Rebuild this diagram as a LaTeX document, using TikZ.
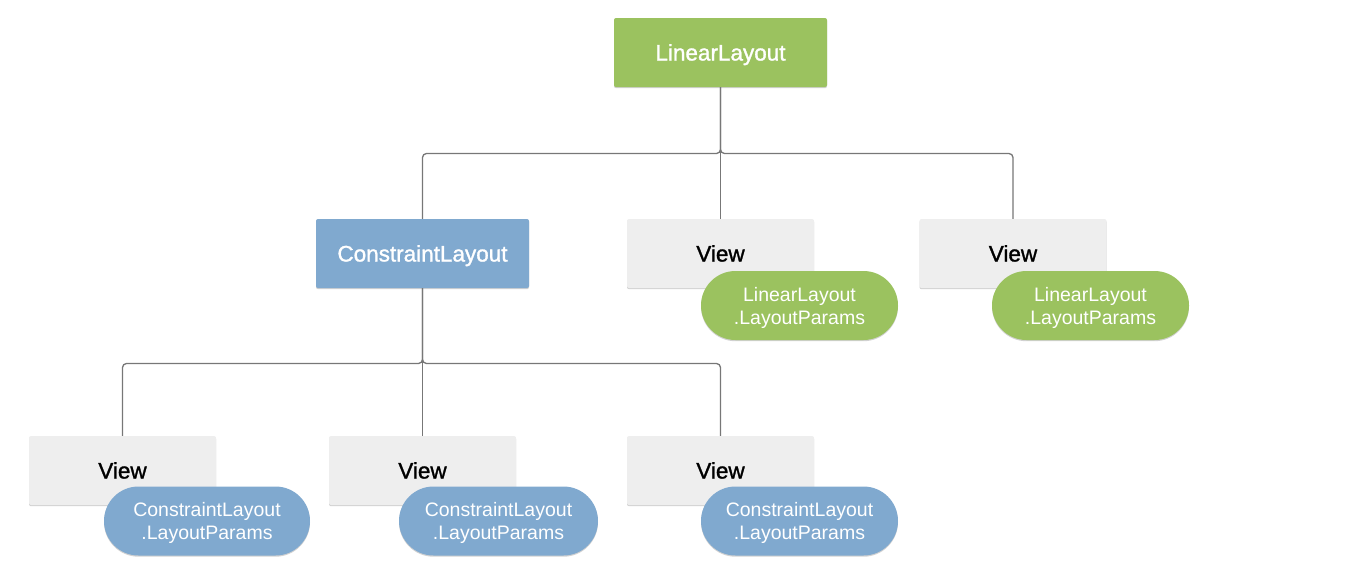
\documentclass[tikz,border=0pt]{standalone}
\usepackage{fontspec}
\setmainfont{Liberation Sans}
\newfontfamily\medfont[FakeBold=1.3]{Liberation Sans}
\usetikzlibrary{shadows}
\definecolor{llgreen}{HTML}{9BC25F}
\definecolor{clblue}{HTML}{80A9CF}
\definecolor{viewgrey}{HTML}{EEEEEE}
\definecolor{linegrey}{HTML}{777777}
\begin{document}
\begin{tikzpicture}[x=1pt,y=-1pt,
  shad/.style={drop shadow={shadow xshift=0pt,shadow yshift=-1.2pt,opacity=0.18,fill=black}},
  mainbox/.style={shad,rounded corners=2pt,inner sep=0pt,minimum height=69pt,
    text height=16pt,text depth=0pt,
    font=\medfont\fontsize{22.5}{26}\selectfont,text=white},
  greenbox/.style={mainbox,fill=llgreen,minimum width=213pt},
  bluebox/.style={mainbox,fill=clblue,minimum width=213pt},
  viewbox/.style={shad,rounded corners=2pt,inner sep=0pt,minimum height=69pt,minimum width=187pt,
    text height=16pt,text depth=0pt,
    fill=viewgrey,text=black,font=\medfont\fontsize{22.5}{26}\selectfont},
  pill/.style={shad,rounded corners=34.5pt,inner sep=0pt,minimum height=69pt,
    text depth=0pt,
    text=white,align=center,font=\fontsize{19.5}{23}\selectfont},
  gpill/.style={pill,fill=llgreen},
  bpill/.style={pill,fill=clblue},
  conn/.style={draw=linegrey,line width=1.3pt,rounded corners=4pt}
]
\useasboundingbox (0,0) rectangle (1352,574);
% top level
\node[greenbox] (ll) at (720.5,52.5) {LinearLayout};
% second level
\node[bluebox] (cl) at (422.5,253.5) {ConstraintLayout};
\node[viewbox] (v1) at (720.5,253.5) {View};
\node[viewbox] (v2) at (1013,253.5) {View};
\node[gpill,minimum width=197pt] (p1) at (799.5,305.5) {LinearLayout\\.LayoutParams};
\node[gpill,minimum width=197pt] (p2) at (1090.5,305.5) {LinearLayout\\.LayoutParams};
% third level
\node[viewbox] (v3) at (122.5,470.5) {View};
\node[viewbox] (v4) at (422.5,470.5) {View};
\node[viewbox] (v5) at (720.5,470.5) {View};
\node[bpill,minimum width=206pt] (p3) at (207,521) {ConstraintLayout\\.LayoutParams};
\node[bpill,minimum width=199pt] (p4) at (498.5,521) {ConstraintLayout\\.LayoutParams};
\node[bpill,minimum width=197pt] (p5) at (799.5,521) {ConstraintLayout\\.LayoutParams};
% connectors
\coordinate (bar1) at (720.5,153.5);
\coordinate (bar2) at (422.5,363.5);
\draw[conn] (ll.south) -- (bar1) -| (cl.north);
\draw[conn] (ll.south) -- (bar1) -| (v2.north);
\draw[conn] (ll.south) -- (v1.north);
\draw[conn] (cl.south) -- (bar2) -| (v3.north);
\draw[conn] (cl.south) -- (bar2) -| (v5.north);
\draw[conn] (cl.south) -- (v4.north);
\end{tikzpicture}
\end{document}
